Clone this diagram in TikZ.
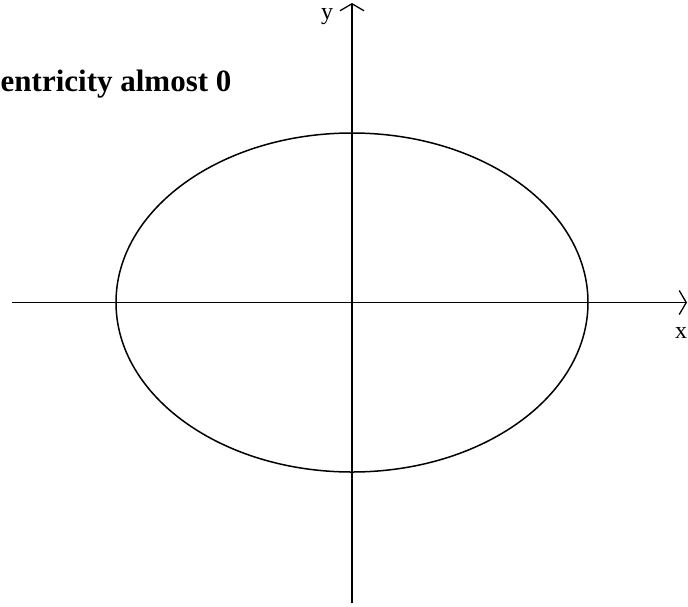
\documentclass[tikz,border=0pt]{standalone}
\usepackage{fontspec}
\setmainfont{Liberation Serif}
\usetikzlibrary{arrows.meta}
\begin{document}
\begin{tikzpicture}[x=1pt,y=-1pt,
  axis/.style={line width=1.7pt,-{Straight Barb[length=7pt,width=24pt,line width=1.3pt]}},
  curve/.style={line width=1.5pt},
  lbl/.style={font=\fontsize{24}{24}\selectfont,inner sep=0pt},
  ttl/.style={font=\bfseries\fontsize{31}{31}\selectfont,inner sep=0pt}]
\useasboundingbox (0,0) rectangle (688,606);
\coordinate (xs) at (12,302.5);
\coordinate (xe) at (687,302.5);
\coordinate (ys) at (352,603);
\coordinate (ye) at (352,3);
\coordinate (c) at (352,302.5);
\draw[axis] (xs) -- (xe);
\draw[axis] (ys) -- (ye);
\draw[curve] (c) ellipse [x radius=236, y radius=169.5];
\node[lbl,anchor=center] (xl) at (681,333) {x};
\node[lbl,anchor=center] (yl) at (327,17) {y};
\node[ttl,anchor=base west] (t) at (0.5,91) {entricity almost 0};
\end{tikzpicture}
\end{document}
